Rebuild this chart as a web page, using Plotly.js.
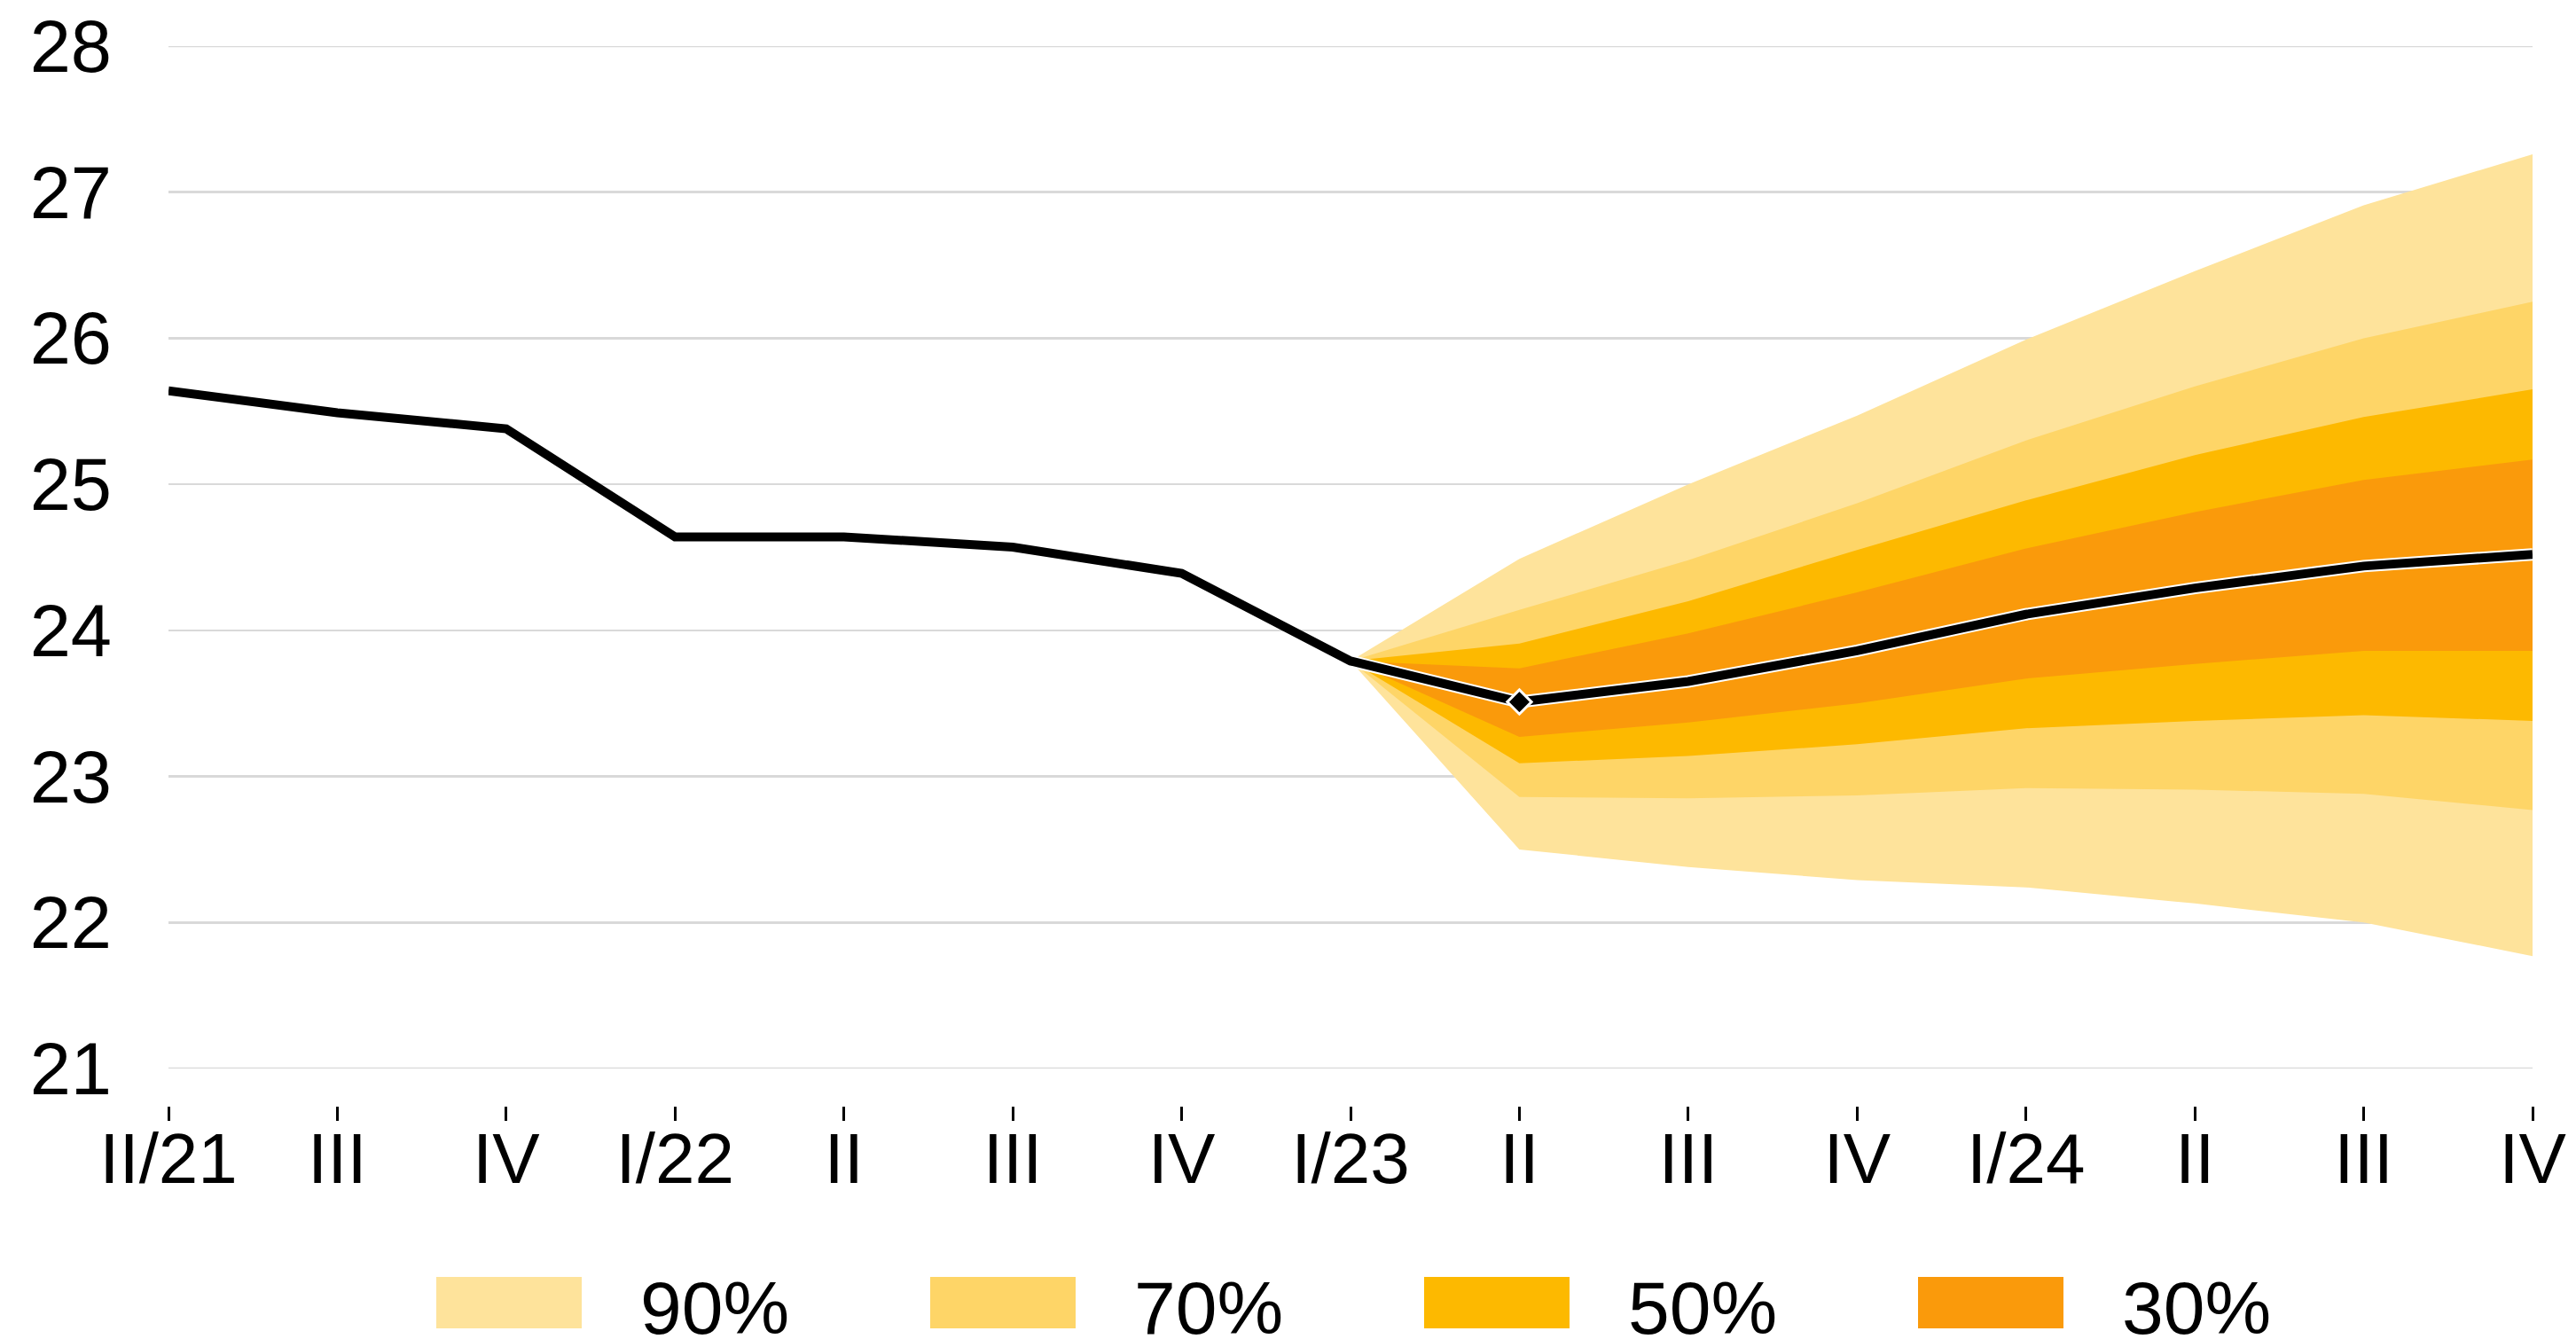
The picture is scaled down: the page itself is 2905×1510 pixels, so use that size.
<!DOCTYPE html>
<html>
<head>
<meta charset="utf-8">
<script src="https://cdn.plot.ly/plotly-3.0.1.min.js"></script>
<style>
  html, body { margin: 0; padding: 0; background: #ffffff; }
  #chart { width: 2905px; height: 1510px; }
</style>
</head>
<body>
<div id="chart"></div>
<script>
// ---- Data ----
const xLabels = ['II/21','III','IV','I/22','II','III','IV','I/23','II','III','IV','I/24','II','III','IV'];
const central = [25.64, 25.49, 25.38, 24.64, 24.64, 24.57, 24.39, 23.79, 23.51, 23.65, 23.86, 24.11, 24.29, 24.44, 24.52];
const forecastStart = 7; // I/23

const upper90 = [23.79, 24.49, 25.00, 25.47, 25.99, 26.46, 26.91, 27.26];
const upper70 = [23.79, 24.14, 24.48, 24.87, 25.30, 25.67, 26.00, 26.25];
const upper50 = [23.79, 23.91, 24.20, 24.55, 24.89, 25.20, 25.46, 25.65];
const upper30 = [23.79, 23.74, 23.98, 24.26, 24.56, 24.81, 25.03, 25.17];
const lower30 = [23.79, 23.27, 23.37, 23.50, 23.67, 23.77, 23.86, 23.86];
const lower50 = [23.79, 23.09, 23.14, 23.22, 23.33, 23.38, 23.42, 23.38];
const lower70 = [23.79, 22.86, 22.85, 22.87, 22.92, 22.91, 22.88, 22.77];
const lower90 = [23.79, 22.50, 22.38, 22.29, 22.24, 22.13, 22.00, 21.77];

const bandNames = ['90%', '70%', '50%', '30%'];
const bandColors = ['#FEE39B', '#FED567', '#FDB900', '#FA9A0B'];
const yTicks = [21, 22, 23, 24, 25, 26, 27, 28];

// ---- Build traces ----
const xIdx = xLabels.map((_, i) => i);
const fx = xIdx.slice(forecastStart);
const bands = [[upper90, lower90], [upper70, lower70], [upper50, lower50], [upper30, lower30]];

const traces = [];
bands.forEach((b, k) => {
  traces.push({
    type: 'scatter', mode: 'lines',
    x: fx.concat(fx.slice().reverse()),
    y: b[0].concat(b[1].slice().reverse()),
    fill: 'toself', fillcolor: bandColors[k],
    line: { width: 0, color: bandColors[k] },
    name: bandNames[k], showlegend: false, hoverinfo: 'skip'
  });
});
// white outline on forecast part of the central line
traces.push({
  type: 'scatter', mode: 'lines',
  x: fx, y: central.slice(forecastStart),
  line: { color: '#ffffff', width: 14 },
  showlegend: false, hoverinfo: 'skip'
});
// central line
traces.push({
  type: 'scatter', mode: 'lines',
  x: xIdx, y: central,
  line: { color: '#000000', width: 10 },
  showlegend: false
});
// marker at first forecast quarter
traces.push({
  type: 'scatter', mode: 'markers',
  x: [xIdx[forecastStart + 1]], y: [central[forecastStart + 1]],
  marker: { symbol: 'diamond', size: 21, color: '#000000', line: { color: '#ffffff', width: 3 } },
  showlegend: false
});

// ---- Layout geometry (pixels) ----
const W = 2905, H = 1510;
const plotL = 190, plotR = 2856, plotT = 52, plotB = 1205, axisY = 1247;
const areaW = plotR - plotL, areaH = axisY - plotT;
const px2x = p => (p - plotL) / areaW;
const px2y = p => (axisY - p) / areaH;

const font = 'Liberation Sans, Arial, Helvetica, sans-serif';
const gridColor = '#d9d9d9';

const shapes = [], annotations = [];
// gridlines at the range ends (Plotly omits them at the edges)
[yTicks[0], yTicks[yTicks.length - 1]].forEach(v => {
  shapes.push({
    type: 'line', xref: 'paper', yref: 'y', x0: 0, x1: 1, y0: v, y1: v,
    line: { color: gridColor, width: 2.5 }, layer: 'below'
  });
});
// legend drawn as shapes + annotations
const legLeft = 492, legStep = 557, swW = 164, swTop = 1440, swBot = 1498, txtOff = 228;
bandNames.forEach((n, k) => {
  const x0 = legLeft + k * legStep;
  shapes.push({
    type: 'rect', xref: 'paper', yref: 'paper',
    x0: px2x(x0), x1: px2x(x0 + swW), y0: px2y(swBot), y1: px2y(swTop),
    fillcolor: bandColors[k], line: { width: 0 }
  });
  annotations.push({
    xref: 'paper', yref: 'paper', x: px2x(x0 + txtOff), y: px2y((swTop + swBot) / 2 + 6),
    xanchor: 'left', yanchor: 'middle', showarrow: false,
    text: n, font: { family: font, size: 84, color: '#000000' }
  });
});

const layout = {
  width: W, height: H,
  margin: { l: plotL, r: W - plotR, t: plotT, b: H - axisY, pad: 0 },
  paper_bgcolor: '#ffffff', plot_bgcolor: '#ffffff',
  showlegend: false,
  font: { family: font, color: '#000000' },
  xaxis: {
    range: [0, xLabels.length - 1],
    tickmode: 'array', tickvals: xIdx, ticktext: xLabels,
    ticks: 'outside', ticklen: 16, tickwidth: 3, tickcolor: '#000000',
    tickfont: { family: font, size: 80, color: '#000000' },
    ticklabelstandoff: -26,
    showgrid: false, zeroline: false, showline: false,
    anchor: 'free', position: 0, domain: [0, 1],
    fixedrange: true
  },
  yaxis: {
    range: [21, 28],
    domain: [px2y(plotB), 1],
    tickmode: 'array', tickvals: yTicks, ticktext: yTicks.map(String),
    ticks: '', showline: false, zeroline: false,
    showgrid: true, gridcolor: gridColor, gridwidth: 2.5,
    tickfont: { family: font, size: 83, color: '#000000' },
    ticklabelstandoff: 64,
    anchor: 'free', position: 0,
    fixedrange: true
  },
  shapes: shapes,
  annotations: annotations
};

Plotly.newPlot('chart', traces, layout, { displayModeBar: false, staticPlot: true });
</script>
</body>
</html>
